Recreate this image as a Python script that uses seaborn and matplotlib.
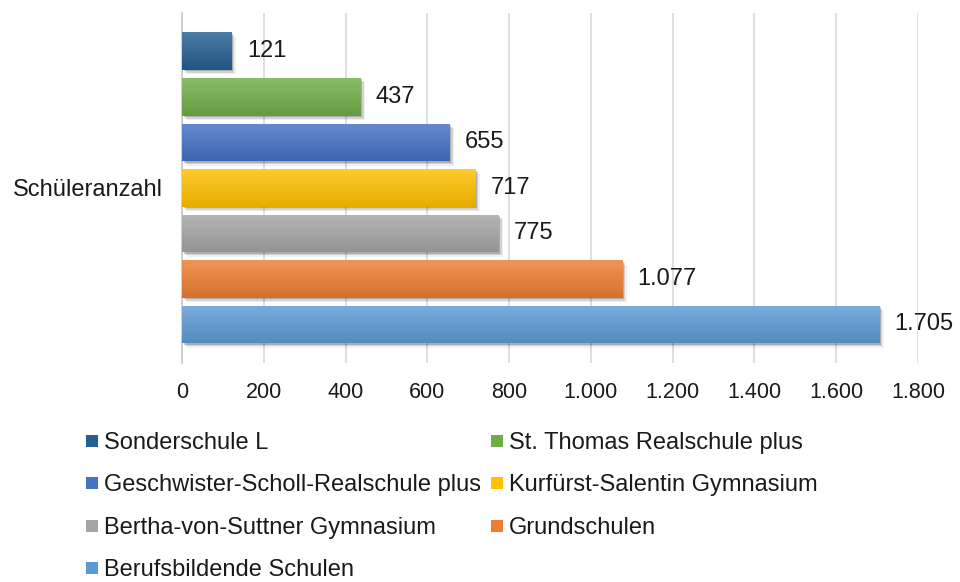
import numpy as np
import pandas as pd
import matplotlib
matplotlib.use("Agg")
import matplotlib.pyplot as plt
import matplotlib.colors as mcolors
from matplotlib.lines import Line2D
from matplotlib.patches import Rectangle
import matplotlib.transforms as mtransforms
import seaborn as sns

# ---- data ----
category = ["Schüleranzahl"]
schools = [
    "Sonderschule L",
    "St. Thomas Realschule plus",
    "Geschwister-Scholl-Realschule plus",
    "Kurfürst-Salentin Gymnasium",
    "Bertha-von-Suttner Gymnasium",
    "Grundschulen",
    "Berufsbildende Schulen",
]
values = [121, 437, 655, 717, 775, 1077, 1705]
colors = ["#255E91", "#70AD47", "#4472C4", "#FFC000", "#A5A5A5", "#ED7D31", "#5B9BD5"]
x_ticks = [0, 200, 400, 600, 800, 1000, 1200, 1400, 1600, 1800]

def de_fmt(v):
    return f"{v:,.0f}".replace(",", ".")

df = pd.DataFrame({"Kategorie": category * len(schools), "Schule": schools, "Wert": values})

sns.set_theme(style="white")
plt.rcParams["font.family"] = ["Liberation Sans", "DejaVu Sans"]
TXT = "#1a1a1a"

fig = plt.figure(figsize=(9.6, 5.82), dpi=100)
ax = fig.add_axes([0.1896, 0.3763, 0.7667, 0.6019])

sns.barplot(data=df, y="Kategorie", x="Wert", hue="Schule", hue_order=schools,
            palette=colors, orient="h", width=0.91, gap=0.176, legend=False,
            ax=ax, zorder=3, linewidth=0)

ax.set_xlim(0, 1800)
ax.set_ylim(0.5, -0.5)
ax.set_xticks(x_ticks)
ax.set_xticklabels([de_fmt(t) for t in x_ticks], fontsize=15.5, color=TXT)
ax.tick_params(axis="x", length=0, pad=14)
ax.tick_params(axis="y", length=0, pad=14, labelsize=17, labelcolor=TXT)
ax.set_xlabel("")
ax.set_ylabel("")
ax.grid(axis="x", color="#d9d9d9", linewidth=1.2, zorder=0)
ax.grid(axis="y", visible=False)
for s in ["top", "right", "bottom"]:
    ax.spines[s].set_visible(False)
ax.spines["left"].set_color("#c8c8c8")
ax.spines["left"].set_linewidth(1.2)
ax.set_axisbelow(True)

# gradient + soft shadow styling on the seaborn bars
bars = list(ax.patches)
for p, col in zip(bars, colors):
    x0, y0 = p.get_x(), p.get_y()
    w, h = p.get_width(), p.get_height()
    for k, a in zip([1.5, 3.0, 4.5], [0.18, 0.12, 0.06]):
        off = mtransforms.offset_copy(ax.transData, fig=fig, x=k * 0.72, y=-k * 0.72, units="points")
        sh = Rectangle((x0, y0), w, h, transform=off, facecolor="black", alpha=a,
                       linewidth=0, zorder=2)
        ax.add_patch(sh)
    rgb = np.array(mcolors.to_rgb(col))
    top = rgb + (1 - rgb) * 0.18
    bot = rgb * 0.9
    t = np.linspace(0, 1, 64)[:, None]
    grad = (top[None, :] * (1 - t) + bot[None, :] * t)[:, None, :]
    im = ax.imshow(grad, extent=(x0, x0 + w, y0 + h, y0), aspect="auto",
                   zorder=4, interpolation="bilinear", origin="upper")
    im.set_clip_path(p)

ax.set_xlim(0, 1800)
ax.set_ylim(0.5, -0.5)

for c in ax.containers:
    ax.bar_label(c, labels=[de_fmt(v) for v in c.datavalues], padding=11,
                 fontsize=17, color=TXT)

# legend (row-major order like the original)
handles = [Line2D([0], [0], marker="s", linestyle="none", markersize=9,
                  markerfacecolor=c, markeredgewidth=0) for c in colors]
order = [0, 2, 4, 6, 1, 3, 5]
leg = fig.legend([handles[i] for i in order], [schools[i] for i in order],
                 ncol=2, loc="upper left", bbox_to_anchor=(0.089, 0.258),
                 frameon=False, fontsize=17, handlelength=0.55, handletextpad=0.25,
                 columnspacing=0.38, labelspacing=0.87, borderpad=0, borderaxespad=0,
                 labelcolor=TXT)

fig.savefig("out.png", dpi=100)
